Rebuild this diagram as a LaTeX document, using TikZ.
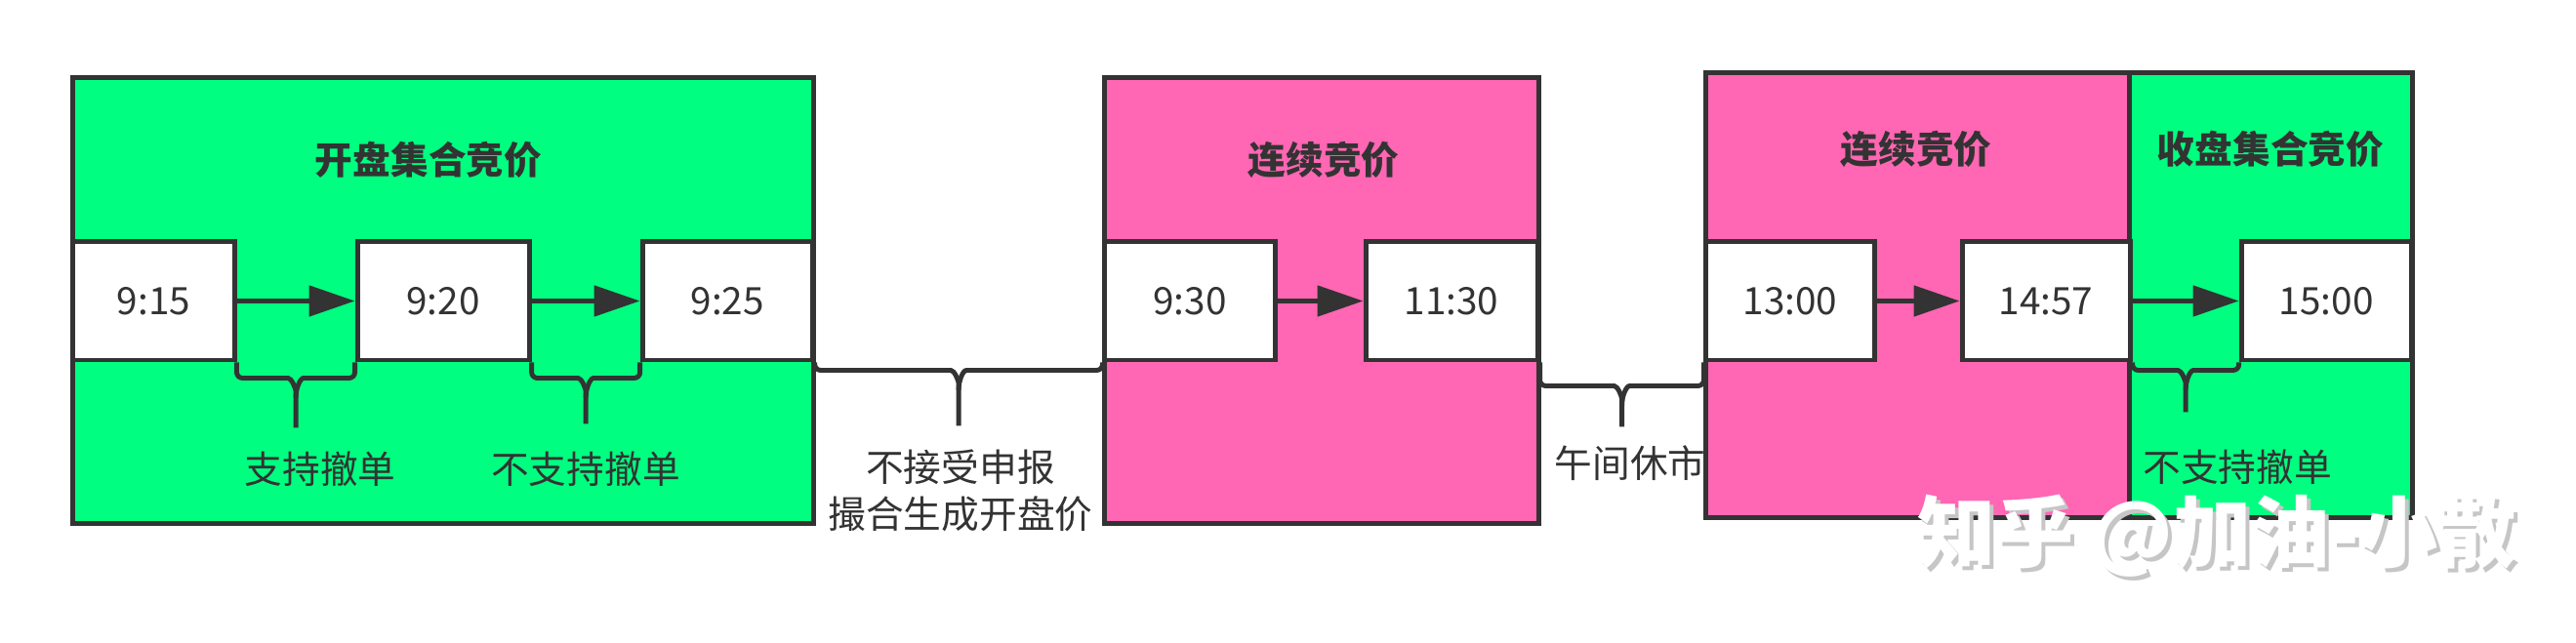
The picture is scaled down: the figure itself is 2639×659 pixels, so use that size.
\documentclass[tikz,border=0pt]{standalone}
\usepackage{fontspec}
\setmainfont{Noto Sans CJK SC}
\usetikzlibrary{arrows.meta}
\usetikzlibrary{positioning}
\usetikzlibrary{calc}
\definecolor{linec}{HTML}{333333}
\definecolor{auctiongreen}{HTML}{00FF80}
\definecolor{tradepink}{HTML}{FF66B3}
\tikzset{phase/.style={draw=linec, line width=1.4pt, rectangle, inner sep=0pt}}
\tikzset{title/.style={text=linec, font=\fontsize{11}{13.6}\selectfont\bfseries}}
\tikzset{
    timebox/.style={
            draw=linec, fill=white, line width=1.4pt,
            minimum width=1.74cm, minimum height=1.21cm, inner sep=0pt,
            text=linec, font=\fontsize{11}{13.6}\selectfont
        }
}
\tikzset{flow/.style={draw=linec, line width=1.4pt, -{Triangle[length=0.47cm, width=0.31cm]}}}
\tikzset{brace line/.style={draw=linec, line width=1.4pt, rounded corners=0.06cm}}
\tikzset{note/.style={text=linec, align=center, font=\fontsize{11}{13.6}\selectfont}}
\tikzset{wm/.style={font=\fontsize{22.8}{26}\selectfont\bfseries}}
% #1 left end, #2 right end, #3 depth of the bar, #4 depth of the tip, #5 name of the tip
\newcommand{\curlybrace}[5]{
    \coordinate (#5) at ($(#1)!0.5!(#2)+(0,#4)$);
    \draw[brace line] (#1) -- ++(0,#3) -- ($(#1)!0.5!(#2)+(-14,#3)$)
        to[out=0, in=90] ($(#1)!0.5!(#2)+(0,#3+20)$) -- (#5);
    \draw[brace line] (#2) -- ++(0,#3) -- ($(#1)!0.5!(#2)+(14,#3)$)
        to[out=180, in=90] ($(#1)!0.5!(#2)+(0,#3+20)$);
}

\begin{document}
\begin{tikzpicture}[x=0.01cm, y=-0.01cm]
            \useasboundingbox (0,0) rectangle (2639,659);
            \node[phase, fill=auctiongreen, minimum width=7.58cm, minimum height=4.56cm] (open) at (454,308) {};
            \node[phase, fill=tradepink, minimum width=4.44cm, minimum height=4.56cm] (morning) at (1354,308) {};
            \node[phase, fill=tradepink, minimum width=4.34cm, minimum height=4.55cm] (afternoon) at (1965,302.5) {};
            \node[phase, fill=auctiongreen, minimum width=2.89cm, minimum height=4.55cm] (close) at (2326.5,302.5) {};
            \node[title] (openT) at (439,164) {开盘集合竞价};
            \node[title] (morningT) at (1356,164) {连续竞价};
            \node[title] (afternoonT) at (1963,153) {连续竞价};
            \node[title] (closeT) at (2326,153) {收盘集合竞价};

            \node[timebox, minimum width=1.65cm] (t915) at (157.5,308.5) {9:15};
            \node[timebox, minimum width=1.76cm, right=1.21cm of t915] (t920) {9:20};
            \node[timebox, right=1.11cm of t920] (t925) {9:25};
            \node[timebox] (t930) at (1219,308.5) {9:30};
            \node[timebox, minimum width=1.76cm, right=0.88cm of t930] (t1130) {11:30};
            \node[timebox, minimum width=1.72cm] (t1300) at (1834,308.5) {13:00};
            \node[timebox, minimum width=1.72cm, right=0.85cm of t1300] (t1457) {14:57};
            \node[timebox, right=1.09cm of t1457] (t1500) {15:00};
            \draw[flow] (t915) -- (t920);
            \draw[flow] (t920) -- (t925);
            \draw[flow] (t930) -- (t1130);
            \draw[flow] (t1300) -- (t1457);
            \draw[flow] (t1457) -- (t1500);

            \curlybrace{t915.south east}{t920.south west}{16}{67}{b1}
            \curlybrace{t920.south east}{t925.south west}{16}{63}{b2}
            \curlybrace{t925.south east}{t930.south west}{8}{65}{b3}
            \curlybrace{t1130.south east}{t1300.south west}{24}{66}{b4}
            \curlybrace{t1457.south east}{t1500.south west}{8}{51}{b5}
            \node[note] (n1) at (328,481) {支持撤单};
            \node[note] (n2) at (600,481) {不支持撤单};
            \node[note] (n3) at (984,503) {不接受申报\\撮合生成开盘价};
            \node[note] (n4) at (1670,475) {午间休市};
            \node[note] (n5) at (2292,479) {不支持撤单};

            \node[wm, text=gray!45] (wmShade) at (2275,553) {知乎 @加油-小散};
            \node[wm, text=white] (wmText) at (2271,549) {知乎 @加油-小散};
        \end{tikzpicture}
\end{document}
